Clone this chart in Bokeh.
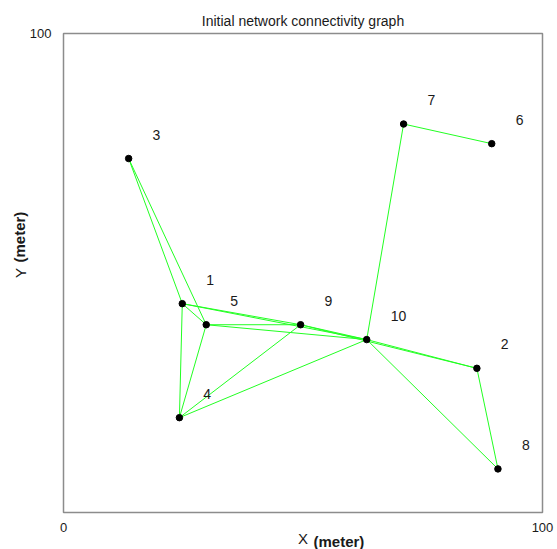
from bokeh.plotting import figure
from bokeh.models import Title, FixedTicker
from bokeh.embed import file_html
from bokeh.resources import INLINE
from bokeh.core.properties import value

# ---------------- data ----------------
title_text = "Initial network connectivity graph"
x_label_main, x_label_unit = "X", "(meter)"
y_label_main, y_label_unit = "Y", "(meter)"

node_ids = ["1", "2", "3", "4", "5", "6", "7", "8", "9", "10"]
node_x = [24.8, 86.3, 13.6, 24.2, 29.8, 89.4, 71.0, 90.7, 49.5, 63.3]
node_y = [43.6, 30.1, 73.9, 19.8, 39.2, 77.0, 81.1, 9.1, 39.2, 36.1]

edge_from = [1, 1, 1, 1, 1, 2, 2, 2, 3, 4, 4, 4, 5, 5, 6, 7, 8, 9]
edge_to = [3, 4, 5, 9, 10, 8, 9, 10, 5, 5, 9, 10, 9, 10, 7, 10, 10, 10]

x_ticks = [0, 100]
y_ticks = [100]
x_limits = (0, 100)
y_limits = (0, 100)

# ---------------- styles ----------------
FONT = "Liberation Sans"
LABEL_OFFSET = 5  # node label offset in data units
EDGE_COLOR = "#22ff22"
FRAME_COLOR = "#8c8c8c"
TEXT_COLOR = "#1a1a1a"

p = figure(
    frame_width=479, frame_height=479,
    x_range=x_limits, y_range=y_limits,
    min_border_left=63, min_border_right=15,
    min_border_top=33, min_border_bottom=37,
    output_backend="svg", toolbar_location=None,
    background_fill_color="white", border_fill_color="white",
)
p.outline_line_color = FRAME_COLOR
p.outline_line_width = 1.5
p.grid.visible = False

p.title.text = title_text
p.title.text_font = FONT
p.title.text_font_size = "14px"
p.title.text_font_style = "normal"
p.title.text_color = TEXT_COLOR
p.title.align = "center"
p.title.standoff = 10

for ax in (p.xaxis[0], p.yaxis[0]):
    ax.axis_line_color = None
    ax.major_tick_line_color = None
    ax.minor_tick_line_color = None
    ax.major_label_text_font = FONT
    ax.major_label_text_font_size = "13px"
    ax.major_label_text_color = TEXT_COLOR
    ax.axis_label_text_font = FONT
    ax.axis_label_text_font_size = "15px"
    ax.axis_label_text_font_style = "normal"
    ax.axis_label_text_color = TEXT_COLOR
p.xaxis[0].major_label_standoff = 4
p.yaxis[0].major_label_standoff = 6
p.xaxis[0].ticker = FixedTicker(ticks=x_ticks)
p.yaxis[0].ticker = FixedTicker(ticks=y_ticks)
p.xaxis[0].axis_label = x_label_main
p.yaxis[0].axis_label = y_label_main
p.xaxis[0].axis_label_standoff = -5
p.yaxis[0].axis_label_standoff = -2

# bold unit parts of the axis labels, on the same line as "X" / "Y"
p.add_layout(Title(text=x_label_unit, align="left", offset=250, standoff=-34,
                   vertical_align="top",
                   text_font=FONT, text_font_size="15px", text_font_style="bold",
                   text_color=TEXT_COLOR), "below")
p.add_layout(Title(text=y_label_unit, align="left", offset=250, standoff=-39,
                   text_font=FONT, text_font_size="15px", text_font_style="bold",
                   text_color=TEXT_COLOR), "left")

# edges
xs = [[node_x[a - 1], node_x[b - 1]] for a, b in zip(edge_from, edge_to)]
ys = [[node_y[a - 1], node_y[b - 1]] for a, b in zip(edge_from, edge_to)]
p.multi_line(xs, ys, line_color=EDGE_COLOR, line_width=1)

# nodes
p.scatter(node_x, node_y, size=6.5, color="black")

# node labels
p.text(
    x=[v + LABEL_OFFSET for v in node_x],
    y=[v + LABEL_OFFSET for v in node_y],
    text=node_ids,
    text_font=value(FONT), text_font_size="14px",
    text_align="left", text_baseline="middle", text_color=TEXT_COLOR,
)

open("out.html", "w").write(file_html(p, INLINE))
